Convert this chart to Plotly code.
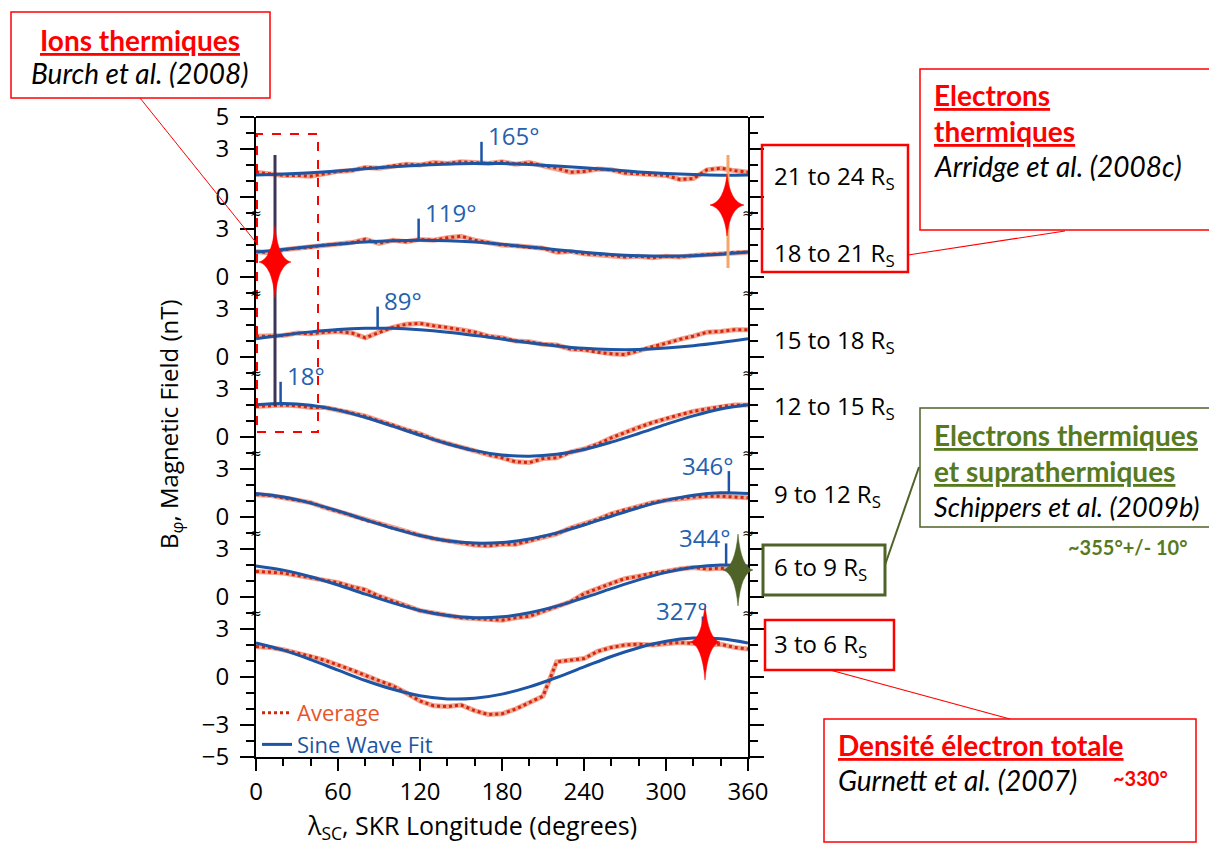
import plotly.graph_objects as go

# ---------------- data ----------------
lam_fit = list(range(0, 361, 20))     # SKR longitude (deg) for the sine-wave fits
lam_avg = list(range(0, 361, 10))     # SKR longitude (deg) for the averages

range_labels = ["21 to 24", "18 to 21", "15 to 18", "12 to 15", "9 to 12", "6 to 9", "3 to 6"]

fit_21_24 = [1.37, 1.43, 1.52, 1.63, 1.76, 1.89, 1.99, 2.07, 2.10, 2.09, 2.03, 1.94, 1.83, 1.70, 1.57, 1.47, 1.40, 1.36, 1.37]
fit_18_21 = [1.56, 1.72, 1.90, 2.06, 2.19, 2.27, 2.30, 2.27, 2.18, 2.04, 1.88, 1.70, 1.54, 1.41, 1.33, 1.30, 1.33, 1.42, 1.56]
fit_15_18 = [1.14, 1.37, 1.57, 1.72, 1.79, 1.79, 1.70, 1.55, 1.35, 1.12, 0.89, 0.69, 0.54, 0.47, 0.47, 0.56, 0.71, 0.91, 1.14]
fit_12_15 = [2.02, 2.10, 1.98, 1.68, 1.22, 0.68, 0.11, -0.42, -0.85, -1.12, -1.20, -1.08, -0.78, -0.32, 0.22, 0.79, 1.32, 1.75, 2.02]
fit_9_12 = [1.47, 1.25, 0.87, 0.38, -0.17, -0.70, -1.16, -1.48, -1.63, -1.59, -1.37, -0.99, -0.50, 0.05, 0.58, 1.04, 1.36, 1.51, 1.47]
fit_6_9 = [1.94, 1.68, 1.27, 0.75, 0.18, -0.37, -0.84, -1.16, -1.30, -1.24, -0.98, -0.57, -0.05, 0.52, 1.07, 1.54, 1.86, 2.00, 1.94]
fit_3_6 = [2.13, 1.68, 1.09, 0.43, -0.22, -0.77, -1.17, -1.37, -1.33, -1.07, -0.62, -0.03, 0.63, 1.28, 1.83, 2.23, 2.43, 2.39, 2.13]

avg_21_24 = [1.55, 1.45, 1.35, 1.35, 1.3, 1.45, 1.6, 1.65, 1.85, 1.8, 1.95, 2.05, 2.0, 2.15, 2.1, 2.2, 2.15, 2.1, 2.2,
             2.05, 2.15, 1.95, 1.8, 1.55, 1.6, 1.75, 1.7, 1.5, 1.45, 1.4, 1.35, 1.1, 1.15, 1.7, 1.8, 1.65, 1.55]
avg_18_21 = [1.6, 1.5, 1.7, 1.8, 1.85, 2.0, 2.05, 2.15, 2.35, 2.1, 2.3, 2.2, 2.35, 2.3, 2.45, 2.55, 2.3, 2.15, 2.0,
             1.95, 1.85, 1.8, 1.55, 1.6, 1.45, 1.4, 1.35, 1.25, 1.3, 1.2, 1.3, 1.25, 1.35, 1.4, 1.45, 1.55, 1.55]
avg_15_18 = [1.3, 1.3, 1.35, 1.5, 1.45, 1.55, 1.6, 1.5, 1.2, 1.55, 1.85, 2.05, 2.1, 1.95, 1.85, 1.7, 1.55, 1.3, 1.2,
             1.0, 0.95, 0.8, 0.75, 0.5, 0.45, 0.3, 0.2, 0.15, 0.4, 0.65, 0.85, 1.1, 1.3, 1.55, 1.6, 1.7, 1.7]
avg_12_15 = [1.9, 1.95, 2.0, 1.95, 1.85, 1.85, 1.7, 1.5, 1.3, 1.0, 0.75, 0.45, 0.2, -0.15, -0.4, -0.65, -0.85, -1.1, -1.3,
             -1.55, -1.6, -1.35, -1.3, -0.95, -0.75, -0.45, -0.05, 0.3, 0.6, 0.9, 1.15, 1.4, 1.6, 1.75, 1.9, 2.0, 2.0]
avg_9_12 = [1.4, 1.35, 1.2, 1.05, 0.9, 0.6, 0.35, 0.1, -0.2, -0.4, -0.7, -0.9, -1.15, -1.35, -1.5, -1.6, -1.75, -1.8, -1.7,
            -1.7, -1.5, -1.25, -1.05, -0.7, -0.45, -0.15, 0.2, 0.45, 0.65, 0.9, 1.05, 1.15, 1.25, 1.3, 1.3, 1.25, 1.2]
avg_6_9 = [1.6, 1.55, 1.5, 1.35, 1.2, 1.05, 0.9, 0.65, 0.45, 0.05, -0.25, -0.55, -0.85, -1.0, -1.15, -1.3, -1.35, -1.4, -1.45,
           -1.3, -1.2, -0.9, -0.6, -0.3, 0.2, 0.55, 0.85, 1.15, 1.3, 1.5, 1.6, 1.75, 1.85, 1.75, 1.8, 1.7, 1.65]
avg_3_6 = [1.9, 1.85, 1.7, 1.5, 1.3, 1.05, 0.75, 0.45, 0.1, -0.25, -0.55, -1.0, -1.5, -1.8, -1.85, -1.75, -2.1, -2.35, -2.3,
           -2.0, -1.6, -1.2, 0.95, 1.05, 1.15, 1.6, 1.85, 2.0, 2.05, 2.0, 2.1, 2.15, 2.1, 2.0, 2.05, 1.85, 1.75]

peak_deg = [165, 119, 89, 18, 346, 344, 327]
peak_val = [2.1, 2.3, 1.8, 2.1, 1.52, 2.0, 2.43]

fits = [fit_21_24, fit_18_21, fit_15_18, fit_12_15, fit_9_12, fit_6_9, fit_3_6]
avgs = [avg_21_24, avg_18_21, avg_15_18, avg_12_15, avg_9_12, avg_6_9, avg_3_6]

# ---------------- styling ----------------
FIT_COLOR = "#1d55a4"
LABEL_BLUE = "#2461ae"
AVG_COLOR = "#d2280a"
AVG_HALO = "rgba(232,85,50,0.55)"
RED = "#ff0000"
GREEN = "#4f6228"
GREEN_TXT = "#587a1f"
AX_FONT = "Open Sans"
CALL_FONT = "Lato"

# target plot area in page pixels: x 256..748, y 117..757
# (the page body has an 8 px margin, so the figure itself is shifted by 8 px)
OFF = 8
L, R, T, B = 256, 748, 117, 757
W, H = 1217 - OFF, 844 - OFF


def PX(x):
    return (x - L) / (R - L)


def PY(y):
    return (B - y) / (B - T)


def axname(n):
    return "y" if n == 1 else f"y{n}"


def axkey(n):
    return "yaxis" if n == 1 else f"yaxis{n}"


fig = go.Figure()

for i in range(7):
    n = 7 - i
    ya = axname(n)
    fig.add_trace(go.Scatter(x=lam_avg, y=avgs[i], mode="lines", xaxis="x", yaxis=ya,
                             line=dict(color=AVG_HALO, width=5), showlegend=False, hoverinfo="skip"))
    fig.add_trace(go.Scatter(x=lam_avg, y=avgs[i], mode="lines", xaxis="x", yaxis=ya,
                             line=dict(color=AVG_COLOR, width=3, dash="dot"),
                             name='<span style="color:#e8542a">Average</span>',
                             legendgroup="avg", showlegend=(i == 0), legendrank=1))
    fig.add_trace(go.Scatter(x=lam_fit, y=fits[i], mode="lines", xaxis="x", yaxis=ya,
                             line=dict(color=FIT_COLOR, width=3, shape="spline"),
                             name='<span style="color:#1d55a4">Sine Wave Fit</span>',
                             legendgroup="fit", showlegend=(i == 0), legendrank=2))
    fig.add_trace(go.Scatter(x=[peak_deg[i], peak_deg[i]], y=[peak_val[i], peak_val[i] + 1.35],
                             mode="lines", xaxis="x", yaxis=ya,
                             line=dict(color=FIT_COLOR, width=2.5), showlegend=False, hoverinfo="skip"))

layout_axes = {}
for n in range(1, 8):
    if n == 1:
        dom, rng, tv = [0, 0.225], [-5, 4], [-5, -3, 0, 3]
    elif n == 7:
        dom, rng, tv = [0.825, 1.0], [-2, 5], [0, 3, 5]
    else:
        lo = 0.225 + 0.125 * (n - 2)
        dom, rng, tv = [lo - 0.025, lo + 0.125], [-2, 4], [0, 3]
    layout_axes[axkey(n)] = dict(
        domain=dom, range=rng, anchor="x", tickmode="array", tickvals=tv,
        ticks="outside", ticklen=14, tickwidth=2, tickcolor="black",
        showline=True, linecolor="black", linewidth=2, mirror="ticks",
        showgrid=False, zeroline=False, ticklabelstandoff=6,
        tickfont=dict(family=AX_FONT, size=24, color="black"),
        minor=dict(tickmode="linear", tick0=0, dtick=1, ticks="outside", ticklen=8,
                   tickwidth=2, tickcolor="black", showgrid=False),
    )

annotations = []
# peak labels
for i in range(7):
    n = 7 - i
    right = peak_deg[i] > 300
    annotations.append(dict(
        x=peak_deg[i], y=peak_val[i] + 1.35, xref="x", yref=axname(n),
        text=f"{peak_deg[i]}°", showarrow=False,
        xanchor="right" if right else "left", yanchor="middle",
        xshift=6 if right else 4, yshift=6,
        font=dict(family=AX_FONT, size=24, color=LABEL_BLUE)))
# panel range labels
for i in range(7):
    n = 7 - i
    annotations.append(dict(
        x=PX(772), y=fits[i][-1], xref="paper", yref=axname(n),
        text=f"{range_labels[i]} R<sub>S</sub>", showarrow=False,
        xanchor="left", yanchor="middle", yshift=-2,
        font=dict(family=AX_FONT, size=24, color="black")))
# axis break marks
for yb in [0.225, 0.35, 0.475, 0.6, 0.725, 0.85]:
    for xb in [0, 1]:
        annotations.append(dict(x=xb, y=yb, xref="paper", yref="paper", text="≈", showarrow=False,
                                xanchor="center", yanchor="middle",
                                font=dict(family="DejaVu Sans", size=14, color="black")))
# axis titles
annotations.append(dict(x=PX(170), y=PY(425), xref="paper", yref="paper",
                        text="B<sub>φ</sub>, Magnetic Field (nT)", textangle=-90, showarrow=False,
                        xanchor="center", yanchor="middle",
                        font=dict(family=AX_FONT, size=24, color="black")))
annotations.append(dict(x=PX(472), y=PY(826), xref="paper", yref="paper",
                        text="λ<sub>SC</sub>, SKR Longitude (degrees)", showarrow=False,
                        xanchor="center", yanchor="middle",
                        font=dict(family=AX_FONT, size=25, color="black")))


def call(text, x, y, color="black", size=28, xanchor="left"):
    annotations.append(dict(x=PX(x), y=PY(y), xref="paper", yref="paper", text=text, showarrow=False,
                            xanchor=xanchor, yanchor="middle",
                            font=dict(family=CALL_FONT, size=size, color=color)))


call("<b><u>Ions thermiques</u></b>", 140, 40, RED, xanchor="center")
call("<i>Burch et al. (2008)</i>", 140, 73, xanchor="center")
call("<b><u>Electrons</u></b>", 932, 95, RED)
call("<b><u>thermiques</u></b>", 932, 131, RED)
call("<i>Arridge et al. (2008c)</i>", 932, 166)
call("<b><u>Electrons thermiques</u></b>", 932, 435, GREEN_TXT)
call("<b><u>et suprathermiques</u></b>", 932, 471, GREEN_TXT)
call("<i>Schippers et al. (2009b)</i>", 932, 506, size=27)
call("<b>~355°+/- 10°</b>", 1127, 547, GREEN_TXT, size=20, xanchor="center")
call("<b><u>Densité électron totale</u></b>", 836, 745, RED)
call("<i>Gurnett et al. (2007)</i>", 836, 780)
call("<b>~330°</b>", 1140, 778, RED, size=20, xanchor="center")


def rect(x0, y0, x1, y1, color, width, dash="solid"):
    return dict(type="rect", xref="paper", yref="paper", x0=PX(x0), x1=PX(x1), y0=PY(y1), y1=PY(y0),
                line=dict(color=color, width=width, dash=dash), fillcolor="rgba(0,0,0,0)", layer="above")


def seg(x0, y0, x1, y1, color, width):
    return dict(type="line", xref="paper", yref="paper", x0=PX(x0), x1=PX(x1), y0=PY(y0), y1=PY(y1),
                line=dict(color=color, width=width), layer="above")


def star(cx, cy, w, h, color, c=3):
    path = (f"M0,{-h} Q{c},{-c} {w},0 Q{c},{c} 0,{h} "
            f"Q{-c},{c} {-w},0 Q{-c},{-c} 0,{-h} Z")
    return dict(type="path", xref="paper", yref="paper", xsizemode="pixel", ysizemode="pixel",
                xanchor=PX(cx), yanchor=PY(cy), path=path, fillcolor=color,
                line=dict(color=color, width=0.5), layer="above")


shapes = [
    # top frame line
    seg(L, T, R, T, "black", 2),
    # callout boxes
    rect(11, 12, 270, 98, RED, 1.5),
    rect(920, 69, 1213, 230, RED, 1.5),
    rect(762, 145, 908, 272, RED, 2.5),
    rect(920, 408, 1215, 527, GREEN, 1.5),
    rect(763, 545, 885, 595, GREEN, 3),
    rect(765, 620, 894, 670, RED, 2.5),
    rect(824, 719, 1196, 842, RED, 1.5),
    # connectors
    seg(140, 98, 258, 245, RED, 1),
    seg(908, 255, 1065, 231, RED, 1.2),
    seg(885, 565, 919, 467, GREEN, 2),
    seg(830, 670, 1010, 719, RED, 1.2),
    # highlight region and vertical markers
    rect(257, 134, 318, 432, RED, 2, dash="dash"),
    seg(275, 155, 275, 406, "#3d3558", 3),
    seg(728, 155, 728, 268, "#f5a66b", 3),
    star(275, 262, 16, 36, RED),
    star(727, 205, 17, 31, RED),
    star(738, 570, 15, 36, GREEN),
    star(705, 642, 15, 38, RED),
]

fig.update_layout(
    width=W, height=H,
    margin=dict(l=L - OFF, r=W - (R - OFF), t=T - OFF, b=H - (B - OFF)),
    paper_bgcolor="white", plot_bgcolor="rgba(0,0,0,0)",
    font=dict(family=AX_FONT, color="black"),
    xaxis=dict(domain=[0, 1], range=[0, 360], anchor="y", tickmode="array",
               tickvals=[0, 60, 120, 180, 240, 300, 360],
               ticks="outside", ticklen=12, tickwidth=2, tickcolor="black",
               showline=True, linecolor="black", linewidth=2, showgrid=False, zeroline=False,
               tickfont=dict(family=AX_FONT, size=24, color="black"),
               minor=dict(tickmode="linear", tick0=0, dtick=20, ticks="outside", ticklen=7,
                          tickwidth=2, tickcolor="black", showgrid=False)),
    legend=dict(x=PX(257), y=PY(692), xanchor="left", yanchor="top", bgcolor="rgba(0,0,0,0)",
                font=dict(family=AX_FONT, size=22), itemwidth=30, tracegroupgap=0,
                traceorder="normal"),
    showlegend=True,
    annotations=annotations,
    shapes=shapes,
    **layout_axes,
)

fig.write_html("out.html")
